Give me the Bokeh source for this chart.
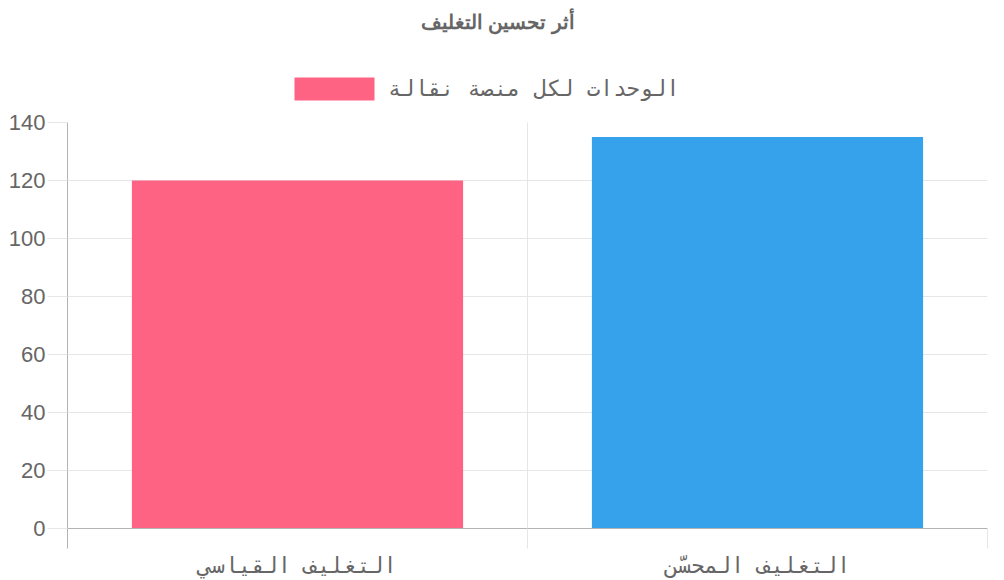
from bokeh.plotting import figure
from bokeh.layouts import column
from bokeh.models import (Range1d, FactorRange, LinearAxis, FixedTicker, Grid,
                          Legend, LegendItem, ColumnDataSource)
from bokeh.embed import file_html
from bokeh.resources import INLINE

# ---- data ----
categories = ["التغليف القياسي", "التغليف المحسّن"]
values = [120, 135]
colors = ["#FF6384", "#36A2EB"]
series_label = "الوحدات لكل منصة نقالة"
title_text = "أثر تحسين التغليف"
y_ticks = [0, 20, 40, 60, 80, 100, 120, 140]

GRID = "#e6e6e6"
AXIS = "#b3b3b3"
TXT = "#666666"

# ---------- header: title + legend ----------
header = figure(width=1000, height=110, x_range=Range1d(0, 1), y_range=Range1d(0, 1),
                output_backend="svg", toolbar_location=None,
                min_border_left=0, min_border_right=0, min_border_top=32, min_border_bottom=0,
                title=title_text)
header.axis.visible = False
header.grid.visible = False
header.outline_line_color = None
header.title.align = "left"
header.title.offset = 353
header.title.text_font = "Liberation Sans"
header.title.text_font_size = "20px"
header.title.text_font_style = "bold"
header.title.text_color = TXT
header.title.standoff = 0

# legend key renderer (hidden in the header; only its swatch is shown)
key = header.vbar(x=[values[0]], top=[values[0]], width=1,
                  fill_color=colors[0], line_color=None, visible=False)
legend = Legend(items=[LegendItem(label=series_label, renderers=[key])],
                orientation="horizontal", location=(217, 7),
                glyph_width=100, glyph_height=29, label_standoff=4,
                padding=0, margin=0, spacing=0, click_policy="none",
                inactive_fill_alpha=0,
                label_text_font="DejaVu Sans Mono", label_text_font_size="22px",
                label_text_color=TXT, border_line_color=None,
                background_fill_alpha=0)
header.add_layout(legend, "center")

# ---------- main chart ----------
src = ColumnDataSource(dict(cat=categories, val=values, color=colors))

p = figure(width=1000, height=470,
           x_range=FactorRange(*categories, range_padding=0),
           y_range=Range1d(0, 140),
           output_backend="svg", toolbar_location=None,
           min_border_left=67, min_border_right=13, min_border_top=12, min_border_bottom=50)
p.outline_line_color = None

p.vbar(x="cat", top="val", width=0.72, source=src,
       fill_color="color", line_color=None)

# category boundaries in the factor range's synthetic coordinates
bounds = list(range(len(categories) + 1))

# grids
p.xgrid.visible = False
p.add_layout(Grid(dimension=0, ticker=FixedTicker(ticks=bounds),
                  grid_line_color=GRID))
p.ygrid.ticker = FixedTicker(ticks=y_ticks)
p.ygrid.grid_line_color = GRID

# y axis
ya = p.yaxis[0]
ya.ticker = FixedTicker(ticks=y_ticks)
ya.major_tick_out = 20
ya.major_tick_in = 0
ya.minor_tick_line_color = None
ya.major_tick_line_color = GRID
ya.axis_line_color = AXIS
ya.major_label_text_font = "Liberation Sans"
ya.major_label_text_font_size = "22px"
ya.major_label_text_color = TXT
ya.major_label_standoff = 2

# x axes: tick axis at frame edge, category label axis below it
xa = p.xaxis[0]
xa.major_tick_line_color = None
xa.minor_tick_line_color = None
xa.axis_line_color = None
xa.major_label_text_font = "DejaVu Sans Mono"
xa.major_label_text_font_size = "22px"
xa.major_label_text_color = TXT
xa.major_label_standoff = -2

tick_axis = LinearAxis(ticker=FixedTicker(ticks=bounds[1:], minor_ticks=bounds[:1]),
                       major_tick_out=20, major_tick_in=0,
                       minor_tick_out=20, minor_tick_in=0,
                       major_tick_line_color=GRID, minor_tick_line_color=AXIS,
                       axis_line_color=AXIS,
                       major_label_overrides={b: "" for b in bounds[1:]},
                       major_label_text_font_size="1px",
                       major_label_standoff=0)
p.below = [tick_axis] + list(p.below)

layout = column(header, p, spacing=0)
open("out.html", "w").write(file_html(layout, INLINE))
